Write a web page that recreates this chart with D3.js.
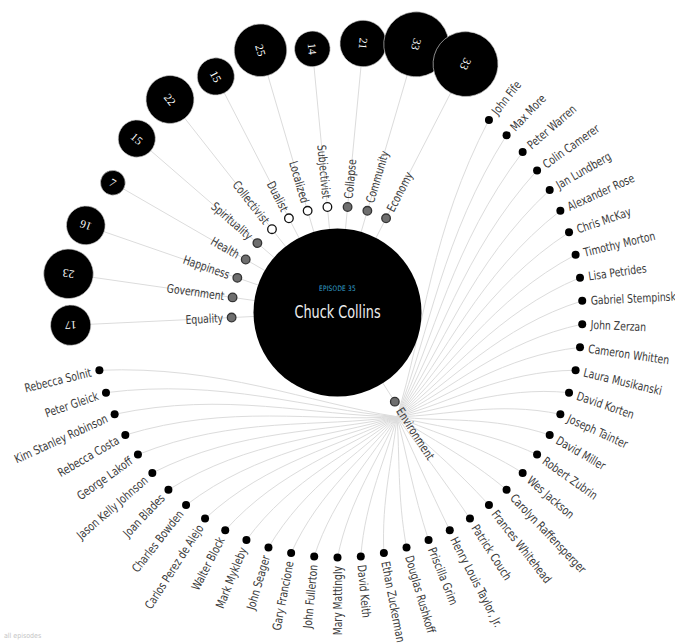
<!DOCTYPE html>
<html><head><meta charset="utf-8">
<script src="https://cdn.jsdelivr.net/npm/d3@7/dist/d3.min.js"></script>
<style>
html,body{margin:0;padding:0;background:#fff;}
svg{display:block;}
</style></head>
<body>
<script>
// ---------- data ----------
const episodeLabel = "EPISODE 35";
const guestName = "Chuck Collins";
const topics = ["Equality","Government","Happiness","Health","Spirituality","Collectivist","Dualist","Localized","Subjectivist","Collapse","Community","Economy"];
const topicCounts = [17,23,16,7,15,22,15,25,14,21,33,33];
const topicKinds = ["theme","theme","theme","theme","theme","worldview","worldview","worldview","worldview","theme","theme","theme"];
const hubTopic = "Environment";
// guests linked through Environment, clockwise from upper right
const people = ["John Fife","Max More","Peter Warren","Colin Camerer","Jan Lundberg","Alexander Rose","Chris McKay","Timothy Morton","Lisa Petrides","Gabriel Stempinski","John Zerzan","Cameron Whitten","Laura Musikanski","David Korten","Joseph Tainter","David Miller","Robert Zubrin","Wes Jackson","Carolyn Raffensperger","Frances Whitehead","Patrick Couch","Henry Louis Taylor, Jr.","Priscilla Grim","Douglas Rushkoff","Ethan Zuckerman","David Keith","Mary Mattingly","John Fullerton","Gary Francione","John Seager","Mark Mykleby","Walter Block","Carlos Perez de Alejo","Charles Bowden","Joan Blades","Jason Kelly Johnson","George Lakoff","Rebecca Costa","Kim Stanley Robinson","Peter Gleick","Rebecca Solnit"];
const footer = "all episodes";

// ---------- layout ----------
const W = 675, H = 643, cx = 337.5, cy = 312.5;
const SLOTS = 66;
const angle = d3.scaleLinear().domain([0, SLOTS]).range([0, 360]);
const firstTopicSlot = 32, hubSlot = 10, firstPersonSlot = -10;
const rCenter = 84, rTopic = 106, rPeople = 245, rBubbleInner = 247, rHub = 120;
const bubbleR = d3.scaleLinear().domain([7, 33]).range([12.4, 32.5]);
const rad = d => d * Math.PI / 180;
const pt = (a, r) => [cx + r * Math.cos(rad(a)), cy + r * Math.sin(rad(a))];
const norm = a => ((a % 360) + 360) % 360;
const flip = a => { a = norm(a); return a >= 90 && a < 270; };
const SX = 0.86; // horizontal condensing of label text

const topicData = topics.map((t, i) => ({name: t, count: topicCounts[i], kind: topicKinds[i], a: norm(angle(firstTopicSlot + 2 * i + 0.5))}));
const hubA = norm(angle(hubSlot + 0.5));
const peopleData = people.map((p, i) => ({name: p, a: norm(angle(firstPersonSlot + i + 0.5))}));

const svg = d3.select("body").append("svg").attr("width", W).attr("height", H);
const font = "'DejaVu Sans Condensed','Liberation Sans Narrow','Roboto',sans-serif";

// radial lines center -> bubbles
const lines = svg.append("g").attr("stroke", "#dcdcdc").attr("stroke-width", 1).attr("fill", "none");
topicData.forEach(d => {
  const r = rBubbleInner + bubbleR(d.count);
  const [x, y] = pt(d.a, r);
  lines.append("line").attr("x1", cx).attr("y1", cy).attr("x2", x).attr("y2", y);
});
{ const [x, y] = pt(hubA, rTopic); lines.append("line").attr("x1", cx).attr("y1", cy).attr("x2", x).attr("y2", y); }

// curved links hub -> people
const S = pt(hubA + 3, rHub);
peopleData.forEach(d => {
  const T = pt(d.a, rPeople);
  const dx = T[0] - S[0], dy = T[1] - S[1], L = Math.hypot(dx, dy);
  const ux = dx / L, uy = dy / L;
  const ox = Math.cos(rad(d.a)), oy = Math.sin(rad(d.a));
  let ax = ux + ox, ay = uy + oy; const al = Math.hypot(ax, ay); ax /= al; ay /= al;
  const p = d3.path();
  p.moveTo(S[0], S[1]);
  p.bezierCurveTo(S[0] + ux * L * 0.3, S[1] + uy * L * 0.3, T[0] - ax * L * 0.4, T[1] - ay * L * 0.4, T[0], T[1]);
  lines.append("path").attr("d", p.toString());
});

// center circle
svg.append("circle").attr("cx", cx).attr("cy", cy).attr("r", rCenter).attr("fill", "#000");
svg.append("text").attr("transform", `translate(${cx},${cy - 22}) scale(${SX},1)`).attr("text-anchor", "middle")
  .attr("font-family", font).attr("font-size", 7.5).attr("fill", "#35a6d4").attr("letter-spacing", 0.3).text(episodeLabel);
svg.append("text").attr("transform", `translate(${cx},${cy + 5}) scale(0.84,1)`).attr("text-anchor", "middle")
  .attr("font-family", font).attr("font-size", 17).attr("fill", "#eeeeee").text(guestName);

const g = svg.append("g").attr("transform", `translate(${cx},${cy})`);

// bubbles
const bub = g.selectAll("g.bub").data(topicData).join("g")
  .attr("transform", d => `rotate(${d.a}) translate(${rBubbleInner + bubbleR(d.count)},0)`);
bub.append("circle").attr("r", d => bubbleR(d.count)).attr("fill", "#000").attr("stroke", "#cfcfcf").attr("stroke-width", 0.6);
bub.append("text").attr("transform", d => d.a >= 205 ? "rotate(180)" : null)
  .attr("text-anchor", "middle").attr("dy", "0.35em")
  .attr("font-family", "'Liberation Serif','DejaVu Serif',serif").attr("font-size", 11.5).attr("fill", "#fff")
  .text(d => d.count);

// topic dots + labels
const allTopics = topicData.concat([{name: hubTopic, kind: "theme", a: hubA}]);
g.selectAll("circle.tdot").data(allTopics).join("circle")
  .attr("cx", d => pt(d.a, rTopic)[0] - cx).attr("cy", d => pt(d.a, rTopic)[1] - cy)
  .attr("r", 4.3)
  .attr("fill", d => d.kind === "worldview" ? "#fff" : "#6e6e6e")
  .attr("stroke", d => d.kind === "worldview" ? "#111" : "#333").attr("stroke-width", 1.3);
g.selectAll("text.tlab").data(allTopics).join("text")
  .attr("transform", d => `rotate(${d.a}) translate(${rTopic + 8.5},0)` + (flip(d.a) ? " rotate(180)" : "") + ` scale(${SX},1)`)
  .attr("text-anchor", d => flip(d.a) ? "end" : "start").attr("dy", "0.35em")
  .attr("font-family", font).attr("font-size", 12).attr("fill", "#3a3a3a")
  .text(d => d.name);

// people dots + labels
g.selectAll("circle.pdot").data(peopleData).join("circle")
  .attr("cx", d => pt(d.a, rPeople)[0] - cx).attr("cy", d => pt(d.a, rPeople)[1] - cy)
  .attr("r", 4).attr("fill", "#000");
g.selectAll("text.plab").data(peopleData).join("text")
  .attr("transform", d => `rotate(${d.a}) translate(${rPeople + 8.5},0)` + (flip(d.a) ? " rotate(180)" : "") + ` scale(${SX},1)`)
  .attr("text-anchor", d => flip(d.a) ? "end" : "start").attr("dy", "0.35em")
  .attr("font-family", font).attr("font-size", 12).attr("fill", "#3a3a3a")
  .text(d => d.name);

svg.append("text").attr("x", 4).attr("y", 638).attr("font-family", font).attr("font-size", 7)
  .attr("fill", "#c4c4c4").text(footer);
</script>
</body></html>
